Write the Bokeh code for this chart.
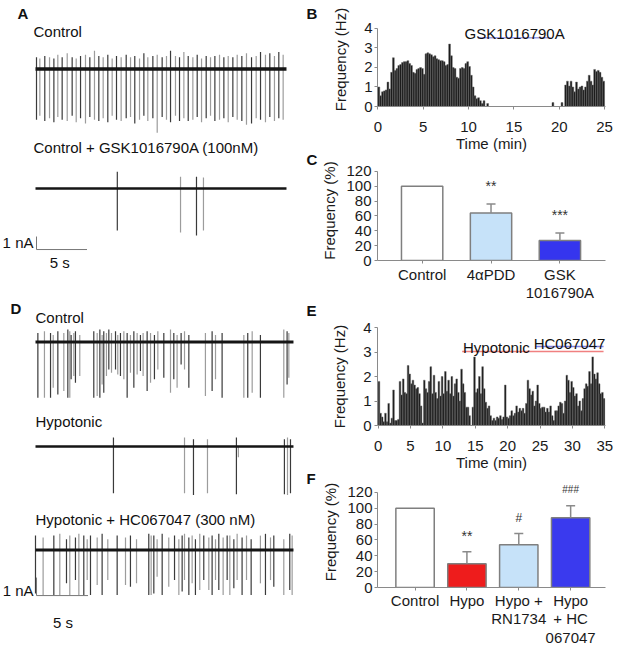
from bokeh.plotting import figure
from bokeh.layouts import row, column
from bokeh.models import Range1d, FixedTicker
from bokeh.core.properties import value
from bokeh.embed import file_html
from bokeh.resources import INLINE

FONT = "Liberation Sans"

# ---------------- DATA ----------------
# Panel A: spike times (s), downward amplitude (nA), upward overshoot (nA)
a_ctrl_t = [0.10, 0.43, 0.92, 1.39, 1.82, 2.21, 2.64, 3.14, 3.63, 4.03,
            4.46, 4.95, 5.38, 5.84, 6.27, 6.70, 7.16, 7.59, 8.02, 8.48,
            8.98, 9.41, 9.83, 10.30, 10.73, 11.12, 11.62, 12.05, 12.54, 12.97,
            13.37, 13.86, 14.26, 14.69, 15.12, 15.58, 16.01, 16.44, 16.90, 17.33,
            17.76, 18.22, 18.65, 19.08, 19.54, 19.97, 20.43, 20.89, 21.39, 21.85,
            22.28, 22.77, 23.20, 23.66, 24.09, 24.52]
a_ctrl_dn = [3.9, 3.6, 4.0, 3.8, 4.1, 3.7, 3.9, 4.0, 3.6, 4.1,
             3.8, 4.2, 3.7, 3.9, 4.0, 3.8, 4.1, 3.6, 3.9, 4.0,
             3.8, 3.7, 4.2, 3.9, 3.6, 4.0, 3.8, 4.9, 3.7, 3.9,
             4.1, 3.6, 4.0, 3.8, 4.0, 3.9, 3.7, 4.1, 3.8, 3.6,
             4.0, 3.9, 3.8, 4.1, 3.7, 3.9, 4.0, 4.3, 4.2, 3.8,
             3.9, 4.1, 3.7, 4.0, 3.8, 3.9]
a_ctrl_up = [0.9, 0.8, 1.0, 0.9, 0.8, 1.1, 0.9, 1.2, 0.9, 0.8,
             1.0, 1.1, 0.9, 1.4, 1.0, 0.9, 1.1, 0.8, 1.0, 0.9,
             1.1, 0.9, 1.0, 0.8, 1.2, 0.9, 1.0, 1.1, 0.9, 1.0,
             1.4, 1.0, 0.9, 1.3, 1.0, 0.9, 1.1, 0.8, 1.0, 0.9,
             1.0, 1.1, 0.9, 1.0, 0.9, 1.1, 1.0, 1.2, 0.9, 1.0,
             1.3, 1.1, 1.2, 1.0, 1.3, 1.1]
a_gsk_t = [8.10, 14.36, 15.94, 16.63]
a_gsk_dn = [3.23, 3.38, 3.62, 3.23]
a_gsk_up = [1.3, 0.9, 0.9, 0.85]

# Panel D traces
d_ctrl_t = [0.23, 0.87, 1.46, 1.72, 2.17, 2.75, 3.14, 3.33, 3.46, 3.72,
            3.88, 4.30, 5.66, 5.99, 6.25, 6.47, 6.63, 6.89, 7.12, 7.38,
            7.77, 7.99, 8.25, 8.58, 8.90, 9.22, 9.55, 9.87, 10.19, 10.45,
            10.84, 11.17, 11.55, 11.88, 12.46, 13.11, 13.43, 13.75, 14.14, 14.47,
            14.89, 16.50, 17.15, 17.48, 18.12, 20.23, 20.61, 21.04, 21.84, 24.11,
            24.43, 24.60]
d_ctrl_dn = [3.09, 3.09, 3.09, 2.54, 2.91, 2.72, 3.09, 3.09, 2.07, 1.89,
             2.26, 1.89, 3.09, 3.00, 3.09, 2.35, 2.81, 1.89, 1.52, 1.70,
             1.52, 1.80, 1.89, 2.07, 3.09, 1.70, 2.54, 1.80, 1.61, 1.89,
             2.72, 2.26, 2.07, 1.52, 1.98, 2.81, 2.07, 2.54, 1.24, 1.52,
             2.54, 3.00, 2.72, 2.07, 3.09, 3.09, 3.09, 2.81, 3.09, 3.09,
             2.35, 1.98]
d_ctrl_up = [0.5, 0.6, 0.5, 0.4, 0.6, 0.5, 0.7, 0.6, 0.4, 0.5,
             0.6, 0.4, 0.6, 0.5, 0.7, 0.4, 0.6, 0.5, 0.7, 0.5,
             0.6, 0.4, 0.5, 0.6, 0.5, 0.4, 0.6, 0.5, 0.4, 0.5,
             0.6, 0.5, 0.4, 0.6, 0.5, 0.7, 0.5, 0.4, 0.5, 0.6,
             0.4, 0.5, 0.6, 0.4, 0.5, 0.4, 0.5, 0.6, 0.4, 0.7,
             0.6, 0.5]
d_hypo_t = [7.57, 14.47, 15.34, 16.70, 19.51, 19.70, 24.17, 24.47, 24.76]
d_hypo_dn = [2.6, 2.6, 2.7, 2.6, 2.65, 0.6, 2.65, 2.7, 2.6]
d_hypo_up = [0.5, 0.5, 0.4, 0.4, 0.5, 0.0, 0.4, 0.5, 0.4]
d_hc_t = [0.00, 0.74, 1.78, 2.36, 3.01, 3.33, 3.88, 4.21, 4.69, 5.02,
          5.34, 5.99, 6.47, 7.02, 7.93, 8.74, 9.22, 9.81, 11.00, 11.23,
          11.49, 11.81, 12.30, 12.94, 13.50, 13.92, 14.24, 14.47, 14.89, 15.21,
          15.53, 15.95, 16.34, 16.83, 17.15, 17.48, 17.80, 18.22, 18.61, 18.87,
          19.26, 19.58, 20.06, 20.49, 20.94, 21.84, 22.33, 22.82, 23.14, 24.11,
          24.69, 24.92]
d_hc_dn = [2.41, 2.50, 2.50, 2.50, 1.85, 2.50, 1.67, 2.50, 2.50, 1.67,
           2.50, 1.94, 2.50, 1.67, 2.50, 1.94, 2.04, 1.85, 2.50, 2.50,
           2.41, 1.48, 2.50, 2.04, 1.67, 2.50, 2.31, 1.67, 2.50, 1.85,
           2.50, 2.22, 1.67, 2.22, 2.50, 1.67, 2.22, 2.50, 1.67, 2.50,
           2.13, 1.67, 2.50, 1.67, 2.50, 1.85, 2.50, 1.67, 2.04, 2.50,
           2.22, 2.50]
d_hc_up = [0.8, 0.7, 0.8, 0.9, 0.6, 0.8, 0.7, 0.9, 0.8, 0.6,
           0.8, 0.7, 0.9, 0.6, 0.8, 0.7, 0.8, 0.6, 0.9, 0.8,
           0.8, 0.6, 0.9, 0.7, 0.8, 0.6, 0.8, 0.9, 0.7, 0.8,
           0.6, 0.9, 0.8, 0.7, 0.8, 0.6, 0.9, 0.7, 0.8, 0.8,
           0.6, 0.9, 0.7, 0.8, 0.6, 0.8, 0.9, 0.7, 0.8, 0.6,
           0.9, 0.8]

# Panel B: firing frequency histogram (Hz), 0.2-min bins from 0 to 25 min
b_bin = 0.2
b_freq = [1.0, 0.55, 0.75, 0.8, 0.85, 1.25, 0.9, 1.75, 2.5, 1.85,
          1.95, 2.1, 2.15, 2.25, 2.3, 2.3, 2.35, 2.2, 2.1, 1.75,
          1.7, 1.9, 1.95, 2.0, 1.95, 1.65, 2.7, 2.75, 2.7, 2.65,
          2.55, 2.6, 2.45, 2.4, 2.35, 2.35, 2.3, 2.1, 2.15, 3.2,
          2.6, 2.0, 1.95, 1.5, 1.45, 1.95, 2.0, 1.95, 2.2, 2.3,
          2.05, 1.6, 1.0, 0.55, 0.4, 0.45, 0.3, 0.15, 0.3, 0.0,
          0.15, 0.0, 0.0, 0.0, 0.0, 0.0, 0.0, 0.0, 0.0, 0.0,
          0.0, 0.0, 0.0, 0.0, 0.0, 0.0, 0.0, 0.0, 0.0, 0.0,
          0.0, 0.0, 0.0, 0.0, 0.0, 0.0, 0.0, 0.0, 0.0, 0.0,
          0.0, 0.0, 0.0, 0.0, 0.0, 0.0, 0.2, 0.0, 0.0, 0.0,
          0.0, 0.2, 0.0, 1.1, 1.3, 1.05, 1.3, 1.0, 0.75, 1.25,
          0.9, 1.0, 1.05, 0.85, 1.0, 1.3, 1.6, 1.3, 1.1, 1.9,
          1.8, 1.85, 1.75, 1.5, 1.3]
b_ticks = [0, 5, 10, 15, 20, 25]
b_drug = "GSK1016790A"
b_drug_span = [11.0, 19.06]

# Panel C: normalized frequency (%)
c_cats = ["Control", "4\u03b1PDD", "GSK\n1016790A"]
c_mean = [100, 64, 27]
c_err = [None, 76, 37]
c_sig = ["", "**", "***"]
c_colors = ["#ffffff", "#c6e2f9", "#3535ee"]

# Panel E: firing frequency histogram (Hz), 0.25-min bins from 0 to 35 min
e_bin = 0.25
e_freq = [1.8, 0.5, 0.35, 0.15, 0.5, 0.15, 0.9, 0.1, 0.3, 1.45,
          0.2, 0.2, 0.25, 1.8, 1.25, 1.9, 1.35, 1.3, 2.45, 2.1,
          1.7, 1.85, 1.65, 1.5, 1.55, 1.3, 0.8, 0.1, 1.85, 1.5,
          1.35, 1.8, 2.4, 1.3, 2.05, 1.35, 1.1, 1.8, 1.2, 2.0,
          1.3, 2.2, 1.4, 1.85, 1.3, 2.0, 1.2, 1.7, 1.9, 1.35,
          1.0, 2.3, 1.7, 1.35, 0.75, 0.75, 0.4, 0.0, 0.75, 2.8,
          1.35, 1.5, 2.0, 1.3, 2.4, 1.5, 0.95, 0.7, 0.8, 0.4,
          0.2, 0.3, 0.2, 0.35, 0.3, 0.4, 0.25, 0.35, 1.65, 0.35,
          0.3, 0.4, 0.6, 0.4, 0.5, 0.8, 0.55, 0.7, 0.6, 0.7,
          0.5, 0.9, 1.85, 1.5, 1.25, 1.4, 0.8, 1.0, 1.65, 0.9,
          0.7, 0.75, 0.75, 0.55, 0.7, 0.55, 0.8, 0.4, 0.2, 0.6,
          0.6, 0.8, 0.95, 0.9, 0.5, 1.0, 2.05, 1.85, 1.35, 1.8,
          1.55, 1.2, 1.3, 0.8, 1.0, 0.6, 1.1, 1.5, 1.7, 1.6,
          2.2, 1.7, 2.8, 2.1, 1.9, 2.15, 1.7, 1.3, 1.35, 1.1]
e_ticks = [0, 5, 10, 15, 20, 25, 30, 35]
e_hypo_span = [12.97, 34.8]
e_hc_span = [24.3, 34.8]

# Panel F: normalized frequency (%)
f_cats = ["Control", "Hypo", "Hypo +\nRN1734", "Hypo\n+ HC\n067047"]
f_mean = [100, 30, 54, 88]
f_err = [None, 45, 68, 103]
f_sig = ["", "**", "#", "###"]
f_colors = ["#ffffff", "#ee1c1c", "#c6e2f9", "#3a3aee"]

# ---------------- HELPERS ----------------
AX = "#8a8a8a"


def txt(p, x, y, s, size="15px", bold=False, align="left", baseline="middle", color="#111111"):
    p.text(x=[x], y=[y], text=[s], text_font=value(FONT), text_font_size=size,
           text_font_style="bold" if bold else "normal", text_align=align,
           text_baseline=baseline, text_color=color)


def blank_fig(w, h, xr, yr):
    p = figure(width=w, height=h, x_range=Range1d(*xr), y_range=Range1d(*yr),
               x_axis_location=None, y_axis_location=None, toolbar_location=None,
               output_backend="svg", min_border=0)
    p.outline_line_color = None
    p.grid.visible = False
    return p


def draw_trace(p, t, dn, up, base, t_end, lw):
    cols = ["#3a3a3a" if i % 2 == 0 else "#9c9c9c" for i in range(len(t))]
    p.segment(x0=t, y0=[base + u for u in up], x1=t, y1=[base - d for d in dn],
              line_color=cols, line_width=1.2)
    p.line([0, t_end], [base, base], line_color="#151515", line_width=lw)


def style(p):
    for ax in p.axis:
        ax.axis_line_color = AX
        ax.major_tick_line_color = AX
        ax.minor_tick_line_color = None
        ax.major_tick_in = 0
        ax.major_tick_out = 3
        ax.major_label_text_font = FONT
        ax.major_label_text_font_size = "15px"
        ax.major_label_text_color = "#1a1a1a"
        ax.axis_label_text_font = FONT
        ax.axis_label_text_font_size = "15px"
        ax.axis_label_text_font_style = "normal"
        ax.axis_label_text_color = "#1a1a1a"
    p.grid.visible = False
    p.outline_line_color = None


# ---------------- LEFT COLUMN ----------------
# Panel A (x: seconds, y: nA)
pa = blank_fig(318, 300, (-3.465, 28.02), (-22.46, 0.615))
txt(pa, -1.78, -0.35, "A", bold=True)
txt(pa, 26.83, -0.35, "B", bold=True)
txt(pa, 26.83, -11.58, "C", bold=True)
txt(pa, -0.2, -1.77, "Control")
draw_trace(pa, a_ctrl_t, a_ctrl_dn, a_ctrl_up, -4.65, 24.85, 3.5)
txt(pa, -0.2, -10.69, "Control + GSK1016790A (100nM)")
draw_trace(pa, a_gsk_t, a_gsk_dn, a_gsk_up, -13.85, 24.85, 2.5)
pa.line([0.1, 0.1, 5.1], [-17.54, -18.54, -18.54], line_color="#777777", line_width=1)
txt(pa, -0.2, -18.0, "1 nA", align="right")
txt(pa, 2.4, -19.54, "5 s", align="center")

# Panel D
pd_ = blank_fig(318, 348, (-3.398, 27.48), (-19.33, 0))
txt(pd_, -2.43, -0.42, "D", bold=True)
txt(pd_, 26.31, -0.58, "E", bold=True)
txt(pd_, 26.31, -9.86, "F", bold=True)
txt(pd_, 0, -0.92, "Control")
draw_trace(pd_, d_ctrl_t, d_ctrl_dn, d_ctrl_up, -2.31, 25.05, 3)
txt(pd_, 0, -6.72, "Hypotonic")
draw_trace(pd_, d_hypo_t, d_hypo_dn, d_hypo_up, -8.11, 25.05, 2.5)
txt(pd_, 0, -12.14, "Hypotonic + HC067047 (300 nM)")
draw_trace(pd_, d_hc_t, d_hc_dn, d_hc_up, -13.86, 25.05, 3)
pd_.line([0.1, 0.1, 5.1], [-15.39, -16.39, -16.39], line_color="#777777", line_width=1)
txt(pd_, -0.19, -16.11, "1 nA", align="right")
txt(pd_, 2.67, -17.87, "5 s", align="center")

# ---------------- RIGHT COLUMN ----------------
# Panel B
pb = figure(width=311, height=158, x_range=Range1d(-0.05, 25.1), y_range=Range1d(0, 4.82),
            toolbar_location=None, output_backend="svg",
            min_border_left=52, min_border_right=24, min_border_top=12, min_border_bottom=52,
            x_axis_label="Time (min)", y_axis_label="Frequency (Hz)")
pb.vbar(x=[b_bin * (i + 0.5) for i in range(len(b_freq))], top=b_freq, width=b_bin,
        fill_color="#151515", line_color="#6b6b6b", line_width=0.5)
style(pb)
pb.xaxis.ticker = FixedTicker(ticks=b_ticks)
pb.yaxis.ticker = FixedTicker(ticks=[0, 1, 2, 3, 4])
pb.yaxis.bounds = (0, 4)
pb.xaxis.major_label_standoff = 12
pb.xaxis.axis_label_standoff = 0
pb.yaxis.major_label_standoff = 2
pb.yaxis.axis_label_standoff = 12
pb.line(b_drug_span, [3.52, 3.52], line_color="#9d9de6", line_width=1.5)
txt(pb, sum(b_drug_span) / 2 + 0.05, 3.73, b_drug, align="center", baseline="alphabetic")

# Panel C
pc = figure(width=311, height=146, x_range=Range1d(0.352, 3.662), y_range=Range1d(0, 134.6),
            toolbar_location=None, output_backend="svg",
            min_border_left=54, min_border_right=22, min_border_top=2, min_border_bottom=42,
            y_axis_label="Frequency (%)")
cx = [1, 2, 3]
pc.vbar(x=cx, top=c_mean, width=0.6, fill_color=c_colors, line_color="#7f7f7f", line_width=1.5)
for i in range(3):
    if c_err[i] is not None:
        pc.segment(x0=[cx[i]], y0=[c_mean[i]], x1=[cx[i]], y1=[c_err[i]], line_color="#8a8a8a", line_width=1.5)
        pc.scatter(x=[cx[i]], y=[c_err[i]], marker="dash", size=9, line_color="#8a8a8a", line_width=1.5)
    if c_sig[i]:
        txt(pc, cx[i], c_err[i] + 24, c_sig[i], size="14px", align="center", color="#333333")
style(pc)
pc.xaxis.ticker = FixedTicker(ticks=cx)
pc.xaxis.major_label_overrides = {cx[i]: c_cats[i] for i in range(3)}
pc.xaxis.major_label_text_line_height = 1.1
pc.xaxis.major_label_standoff = 2
pc.yaxis.ticker = FixedTicker(ticks=[0, 20, 40, 60, 80, 100, 120])
pc.yaxis.bounds = (0, 120)
pc.yaxis.major_label_standoff = 3
pc.yaxis.axis_label_standoff = 5

# Panel E
pe = figure(width=311, height=170, x_range=Range1d(-0.1, 35.1), y_range=Range1d(0, 4),
            toolbar_location=None, output_backend="svg",
            min_border_left=58, min_border_right=19, min_border_top=23, min_border_bottom=49,
            x_axis_label="Time (min)", y_axis_label="Frequency (Hz)")
pe.vbar(x=[e_bin * (i + 0.5) for i in range(len(e_freq))], top=e_freq, width=e_bin,
        fill_color="#111111", line_color="#6b6b6b", line_width=0.5)
style(pe)
pe.xaxis.ticker = FixedTicker(ticks=e_ticks)
pe.yaxis.ticker = FixedTicker(ticks=[0, 1, 2, 3, 4])
pe.xaxis.major_label_standoff = 12
pe.xaxis.axis_label_standoff = 0
pe.yaxis.major_label_standoff = 3
pe.yaxis.axis_label_standoff = 12
pe.line(e_hypo_span, [3.02, 3.02], line_color="#f08080", line_width=1.5)
pe.line(e_hc_span, [3.22, 3.22], line_color="#8080e0", line_width=1.5)
txt(pe, 18.25, 3.2, "Hypotonic", align="center", baseline="alphabetic")
txt(pe, 29.55, 3.34, "HC067047", align="center", baseline="alphabetic")

# Panel F
pf = figure(width=311, height=174, x_range=Range1d(0.276, 4.672), y_range=Range1d(0, 140),
            toolbar_location=None, output_backend="svg",
            min_border_left=52, min_border_right=4, min_border_top=2, min_border_bottom=60,
            y_axis_label="Frequency (%)")
fx = [1, 2, 3, 4]
pf.vbar(x=fx, top=f_mean, width=0.74, fill_color=f_colors, line_color="#7f7f7f", line_width=1.5)
sig_size = {"**": "14px", "#": "12px", "###": "10px"}
for i in range(4):
    if f_err[i] is not None:
        pf.segment(x0=[fx[i]], y0=[f_mean[i]], x1=[fx[i]], y1=[f_err[i]], line_color="#8a8a8a", line_width=1.5)
        pf.scatter(x=[fx[i]], y=[f_err[i]], marker="dash", size=9, line_color="#8a8a8a", line_width=1.5)
    if f_sig[i]:
        txt(pf, fx[i], f_err[i] + 20, f_sig[i], size=sig_size[f_sig[i]], align="center", color="#333333")
style(pf)
pf.xaxis.ticker = FixedTicker(ticks=fx)
pf.xaxis.major_label_overrides = {fx[i]: f_cats[i] for i in range(4)}
pf.xaxis.major_label_text_line_height = 1.1
pf.xaxis.major_label_standoff = 1
pf.yaxis.ticker = FixedTicker(ticks=[0, 20, 40, 60, 80, 100, 120])
pf.yaxis.bounds = (0, 120)
pf.yaxis.major_label_standoff = 2
pf.yaxis.axis_label_standoff = 5

layout = row(column(pa, pd_), column(pb, pc, pe, pf))

open("out.html", "w").write(file_html(layout, INLINE))
